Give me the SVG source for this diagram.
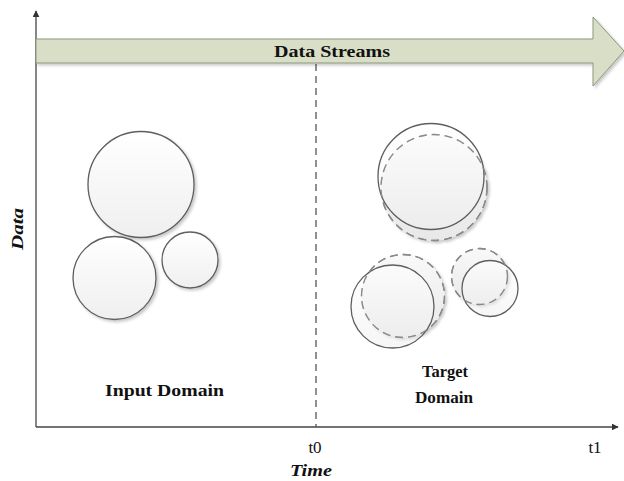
<svg xmlns="http://www.w3.org/2000/svg" width="624" height="481" viewBox="0 0 624 481">
<style>
.lbl{font-family:"Liberation Serif","Times New Roman",serif;font-weight:bold;fill:#111;}
.it{font-style:italic;}
.num{font-family:"Liberation Serif","Times New Roman",serif;fill:#111;}
.solid{fill:url(#cg);stroke:#5e5e5e;stroke-width:1.3;}
.solidT{fill:url(#cg);fill-opacity:0.55;stroke:#5e5e5e;stroke-width:1.3;}
.dash{fill:url(#dg);stroke:#7d7d7d;stroke-width:1.3;stroke-dasharray:8 5;}
.dashO{fill:none;stroke:#8a8a8a;stroke-width:1.3;stroke-dasharray:8 5;}
.ax{stroke:#444;stroke-width:1.3;fill:none;}
</style>
<defs>
<linearGradient id="cg" x1="0" y1="0" x2="0" y2="1">
<stop offset="0" stop-color="#ffffff"/>
<stop offset="1" stop-color="#efefef"/>
</linearGradient>
<linearGradient id="dg" x1="0" y1="0" x2="0" y2="1">
<stop offset="0" stop-color="#f9f9f9"/>
<stop offset="1" stop-color="#e8e8e8"/>
</linearGradient>
<marker id="ah" viewBox="0 0 10 10" refX="9" refY="5" markerWidth="7" markerHeight="7" markerUnits="userSpaceOnUse" orient="auto">
<path d="M0,0 L10,5 L0,10 z" fill="#333"/>
</marker>
<filter id="sh" x="-10%" y="-10%" width="130%" height="130%">
<feGaussianBlur in="SourceAlpha" stdDeviation="1.5"/>
<feOffset dx="1.5" dy="2" result="o"/>
<feComponentTransfer><feFuncA type="linear" slope="0.22"/></feComponentTransfer>
<feMerge><feMergeNode/><feMergeNode in="SourceGraphic"/></feMerge>
</filter>
</defs>
<rect width="624" height="481" fill="#fff"/>

<g id="connectors">
<line class="ax" x1="36" y1="427" x2="36" y2="11" marker-end="url(#ah)"/>
<line class="ax" x1="36" y1="427" x2="618" y2="427" marker-end="url(#ah)"/>
<line x1="316" y1="64" x2="316" y2="427" stroke="#555" stroke-width="1.3" stroke-dasharray="7 5"/>
</g>

<g id="data-streams">
<polygon points="36,39 593,39 593,17 624,51 593,86 593,63 36,63" fill="#d8dfc6" stroke="#8d977f" stroke-width="1" filter="url(#sh)"/>
<text class="lbl" x="332" y="57" font-size="17" text-anchor="middle" textLength="116" lengthAdjust="spacingAndGlyphs">Data Streams</text>
</g>

<g id="input-domain" filter="url(#sh)">
<circle class="solid" cx="141" cy="184.5" r="53"/>
<circle class="solid" cx="114.5" cy="278" r="41.5"/>
<circle class="solid" cx="190" cy="260" r="28"/>
</g>

<g id="target-domain">
<g filter="url(#sh)">
<circle class="dash" cx="434" cy="187.5" r="53"/>
<circle class="dash" cx="403" cy="296" r="41.5"/>
<circle class="dash" cx="479.5" cy="276.5" r="28"/>
</g>
<circle class="solidT" cx="431" cy="176.5" r="53"/>
<circle class="solidT" cx="392.5" cy="306.5" r="41.5"/>
<circle class="solidT" cx="490" cy="288.5" r="28"/>
<circle class="dashO" cx="434" cy="187.5" r="53"/>
<circle class="dashO" cx="403" cy="296" r="41.5"/>
<circle class="dashO" cx="479.5" cy="276.5" r="28"/>
</g>

<g id="labels">
<text class="lbl" x="164.5" y="396" font-size="17" text-anchor="middle" textLength="119" lengthAdjust="spacingAndGlyphs">Input Domain</text>
<text class="lbl" x="445" y="377" font-size="17" text-anchor="middle" textLength="46" lengthAdjust="spacingAndGlyphs">Target</text>
<text class="lbl" x="444" y="403" font-size="17" text-anchor="middle" textLength="58" lengthAdjust="spacingAndGlyphs">Domain</text>
<text class="lbl it" transform="translate(23,229) rotate(-90)" font-size="17" text-anchor="middle" textLength="42" lengthAdjust="spacingAndGlyphs">Data</text>
<text class="lbl it" x="311" y="476" font-size="17" text-anchor="middle" textLength="42" lengthAdjust="spacingAndGlyphs">Time</text>
<text class="num" x="315" y="453" font-size="17" text-anchor="middle">t0</text>
<text class="num" x="595" y="453" font-size="17" text-anchor="middle">t1</text>
</g>
</svg>
